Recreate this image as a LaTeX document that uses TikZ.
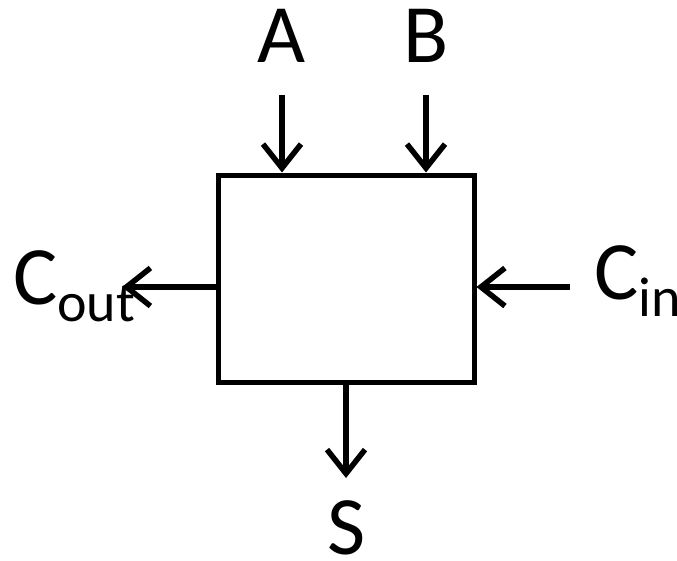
\documentclass[tikz,border=0pt]{standalone}
\usepackage{fontspec}
\setmainfont{Carlito}
\usetikzlibrary{arrows.meta}

\newcommand{\pinsub}[1]{\raisebox{-17pt}{\fontsize{56}{56}\selectfont #1}}

\begin{document}
\begin{tikzpicture}[x=1pt,y=-1pt,
  pin/.style={font=\fontsize{83}{83}\selectfont, inner sep=0pt},
  wire/.style={line width=5.5pt, -{Straight Barb[length=24pt,width=38pt]}}]
\useasboundingbox (0,0) rectangle (677,560);
%\draw[step=20pt,gray,very thin] (0,0) grid (677,560); %background grid

% the adder block
\node[draw, line width=5pt, minimum width=256pt, minimum height=207pt] (adder) at (346,278.5) {};

% pin labels
\node[pin, anchor=base] (a) at (282,62) {A};
\node[pin, anchor=base] (b) at (426,62) {B};
\node[pin, anchor=base] (s) at (347,554) {S};
\node[pin, anchor=base west] (cout) at (13,304) {C\pinsub{out}};
\node[pin, anchor=base west] (cin) at (594,299) {C\pinsub{in}};

% free ends of the wires
\coordinate (a end) at (282,95);
\coordinate (b end) at (426,95);
\coordinate (s end) at (346,478);
\coordinate (cout end) at (122,287);
\coordinate (cin end) at (570,287);

\draw[wire] (a end) -- (a end |- adder.north);
\draw[wire] (b end) -- (b end |- adder.north);
\draw[wire] (adder.south) -- (s end);
\draw[wire] (adder.west |- cout end) -- (cout end);
\draw[wire] (cin end) -- (adder.east |- cin end);

\end{tikzpicture}
\end{document}
